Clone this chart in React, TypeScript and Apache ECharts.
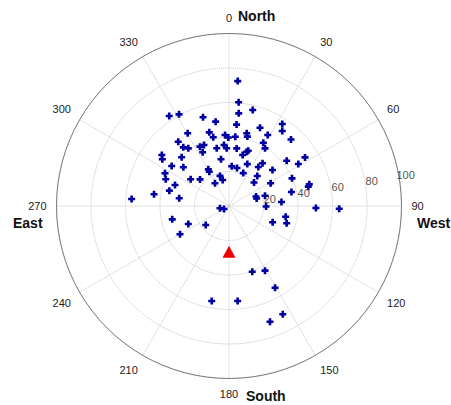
import React, { useEffect, useRef } from "react";
import * as echarts from "echarts";

// azimuth (deg, clockwise from North) and radial value of each blue point
const azimuths = [
  4.0, 5.3, 13.9, 6.0, 326.4, 331.4, 343.7, 351.0, 5.3, 33.0,
  35.4, 21.6, 330.4, 345.0, 347.1, 356.8, 359.4, 5.2, 13.7, 14.8,
  28.6, 43.0, 321.7, 322.1, 324.8, 333.9, 337.7, 333.9, 348.0, 355.3,
  357.7, 7.6, 18.1, 19.2, 15.0, 28.5, 32.0, 307.2, 305.0, 315.8,
  350.3, 57.4, 51.9, 58.8, 304.9, 310.3, 3.9, 11.9, 23.6, 36.9,
  38.1, 50.4, 330.6, 330.1, 23.4, 297.1, 292.9, 304.9, 312.6, 343.3,
  346.4, 328.3, 43.3, 46.8, 61.4, 66.3, 74.9, 76.3, 291.3, 284.4,
  278.9, 77.4, 70.6, 74.8, 74.2, 274.1, 278.8, 85.6, 90.8, 91.3,
  91.4, 255.7, 239.0, 256.8, 246.1, 230.8, 110.5, 100.7, 106.7, 240.0,
  160.5, 150.9, 150.6, 190.3, 174.8, 153.6, 160.5,
];
const radii = [
  72.6, 60.4, 57.3, 54.0, 62.6, 60.5, 53.6, 49.5, 47.4, 56.7,
  53.3, 48.8, 48.5, 44.2, 40.9, 41.2, 39.7, 40.3, 43.4, 41.6,
  46.9, 52.7, 47.5, 43.1, 40.9, 38.3, 38.2, 34.7, 34.2, 35.5,
  33.5, 33.7, 33.1, 33.9, 30.6, 41.7, 39.4, 48.9, 47.2, 39.4,
  27.5, 52.3, 42.5, 47.0, 40.5, 34.7, 23.1, 22.5, 26.5, 28.3,
  31.5, 32.7, 24.4, 22.9, 20.8, 41.7, 39.8, 27.1, 22.8, 18.2,
  15.5, 15.5, 23.9, 19.9, 27.5, 39.9, 48.2, 47.3, 33.6, 35.7,
  44.0, 37.1, 16.6, 16.6, 21.7, 56.6, 29.2, 30.5, 21.5, 50.4,
  63.9, 5.4, 3.4, 33.8, 25.8, 17.4, 27.0, 33.4, 34.9, 32.8,
  40.4, 42.9, 54.4, 56.0, 55.3, 70.1, 71.2,
];

// red triangle (receiver / reference position)
const markerAzimuth = [180];
const markerRadius = [26.5];

const radiusTicks = [20, 40, 60, 80, 100];
const radiusLabelAngle = 80;

const directions = ["North", "West", "South", "East"];

const FONT = "Arial, 'Liberation Sans', Helvetica, sans-serif";

export default function App() {
  const ref = useRef<HTMLDivElement>(null);

  useEffect(() => {
    if (!ref.current) return;
    const chart = echarts.init(ref.current, undefined, { renderer: "svg" });

    const points = azimuths.map((a, i) => [radii[i], a]);
    const marker = markerAzimuth.map((a, i) => [markerRadius[i], a]);
    const tickLabels = radiusTicks.map((t) => ({
      value: [t + 4, radiusLabelAngle],
      label: { formatter: String(t) },
    }));

    const option = {
      animation: false,
      backgroundColor: "#ffffff",
      polar: { center: [229, 206], radius: 172.5 },
      angleAxis: {
        type: "value",
        min: 0,
        max: 360,
        interval: 30,
        startAngle: 90,
        clockwise: true,
        axisLine: { show: true, lineStyle: { color: "#7c7c7c", width: 1 } },
        axisTick: { show: false },
        axisLabel: {
          show: true,
          margin: 10,
          fontSize: 11,
          color: "#222222",
          fontFamily: FONT,
        },
        splitLine: {
          show: true,
          lineStyle: { color: "#c4c4c4", type: "dotted", width: 1 },
        },
      },
      radiusAxis: {
        type: "value",
        min: 0,
        max: 100,
        interval: 20,
        axisLine: { show: false },
        axisTick: { show: false },
        axisLabel: { show: false },
        splitLine: {
          show: true,
          lineStyle: { color: "#c4c4c4", type: "dotted", width: 1 },
        },
      },
      series: [
        {
          type: "scatter",
          coordinateSystem: "polar",
          data: points,
          symbol:
            "path://M2.5,0 L5.5,0 L5.5,2.5 L8,2.5 L8,5.5 L5.5,5.5 L5.5,8 L2.5,8 L2.5,5.5 L0,5.5 L0,2.5 L2.5,2.5 Z",
          symbolSize: 7,
          itemStyle: { color: "#0000a2", opacity: 1 },
          silent: true,
          z: 3,
        },
        {
          type: "scatter",
          coordinateSystem: "polar",
          data: marker,
          symbol: "triangle",
          symbolSize: [13, 12],
          itemStyle: { color: "#ee0000", opacity: 1 },
          silent: true,
          z: 4,
        },
        {
          type: "scatter",
          coordinateSystem: "polar",
          data: tickLabels,
          symbolSize: 1,
          clip: false,
          silent: true,
          itemStyle: { color: "rgba(0,0,0,0)" },
          label: {
            show: true,
            position: "inside",
            offset: [0, -5],
            fontSize: 11,
            color: "#222222",
            textBorderWidth: 0,
            fontFamily: FONT,
          },
          labelLayout: { hideOverlap: false },
          z: 5,
        },
      ],
      graphic: [
        {
          type: "text",
          left: 238,
          top: 9,
          style: { text: directions[0], font: `bold 14px ${FONT}`, fill: "#111" },
        },
        {
          type: "text",
          left: 417,
          top: 216,
          style: { text: directions[1], font: `bold 14px ${FONT}`, fill: "#111" },
        },
        {
          type: "text",
          left: 246,
          top: 389,
          style: { text: directions[2], font: `bold 14px ${FONT}`, fill: "#111" },
        },
        {
          type: "text",
          left: 13,
          top: 216,
          style: { text: directions[3], font: `bold 14px ${FONT}`, fill: "#111" },
        },
      ],
    };

    chart.setOption(option as any);
    return () => chart.dispose();
  }, []);

  return (
    <div
      ref={ref}
      style={{ position: "fixed", left: 0, top: 0, width: 451, height: 405 }}
    />
  );
}
